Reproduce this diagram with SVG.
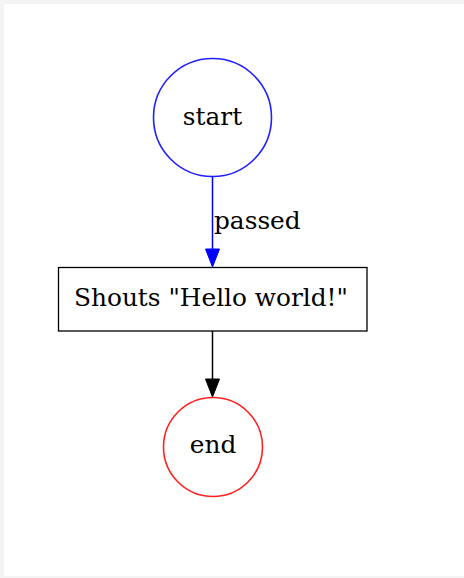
<svg xmlns="http://www.w3.org/2000/svg" width="464" height="578" viewBox="0 0 464 578">
<style>
text{font-family:"DejaVu Serif","Liberation Serif",serif;font-size:24.8px;fill:#000;text-anchor:middle}
.edge{fill:none;stroke-width:1.5}
</style>
<rect x="0" y="0" width="464" height="578" fill="#f4f4f4"/>
<rect x="4" y="4" width="460" height="572" fill="#fff"/>
<g id="connectors">
<line class="edge" x1="212.5" y1="177" x2="212.5" y2="249" stroke="#0000ff"/>
<path d="M205.5,249 L219.5,249 L212.5,267 Z" fill="#0000ff" stroke="#0000ff"/>
<text x="214" y="229" style="text-anchor:start">passed</text>
<line class="edge" x1="212.5" y1="331" x2="212.5" y2="379" stroke="#000"/>
<path d="M205.5,379 L219.5,379 L212.5,397 Z" fill="#000" stroke="#000"/>
</g>
<g id="start">
<circle cx="212.5" cy="117.5" r="59" fill="none" stroke="#2020ff" stroke-width="1.6"/>
<text x="212.5" y="125">start</text>
</g>
<g id="shout">
<rect x="58.5" y="267.5" width="308.5" height="63.5" fill="none" stroke="#000" stroke-width="1.3"/>
<text x="211" y="306">Shouts "Hello world!"</text>
</g>
<g id="end">
<circle cx="213" cy="447" r="49.5" fill="none" stroke="#ff2020" stroke-width="1.6"/>
<text x="213" y="453">end</text>
</g>
</svg>
